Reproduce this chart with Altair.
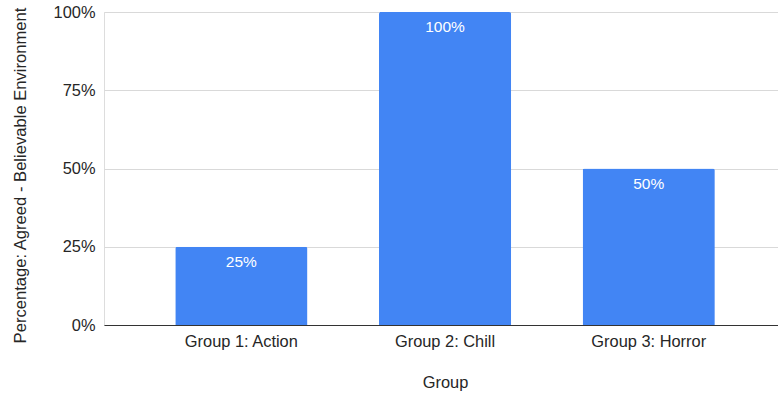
import altair as alt
import pandas as pd

groups = ["Group 1: Action", "Group 2: Chill", "Group 3: Horror"]
values = [0.25, 1.00, 0.50]
labels = ["25%", "100%", "50%"]

df = pd.DataFrame({"group": groups, "value": values, "label": labels})

FONT = "Liberation Sans, Arial, sans-serif"
TXT = "#262626"

x = alt.X(
    "group:N",
    sort=groups,
    scale=alt.Scale(paddingInner=0.351, paddingOuter=0.33, align=0.53),
    axis=alt.Axis(
        title="Group",
        labelAngle=0,
        labelFontSize=16.4,
        labelColor=TXT,
        labelPadding=8,
        labelFont=FONT,
        ticks=False,
        domainColor="#333",
        domainWidth=1.2,
        titleFont=FONT,
        titleFontSize=16.4,
        titleFontWeight="normal",
        titleColor=TXT,
        titleX=341,
        titleY=57,
        titleAlign="center",
        titleBaseline="middle",
    ),
)

y = alt.Y(
    "value:Q",
    scale=alt.Scale(domain=[0, 1], nice=False),
    axis=alt.Axis(
        title="Percentage: Agreed - Believable Environment",
        format=".0%",
        values=[0, 0.25, 0.5, 0.75, 1.0],
        labelFontSize=16.4,
        labelColor=TXT,
        labelPadding=9,
        labelFont=FONT,
        ticks=False,
        domain=False,
        gridColor="#d9d9d9",
        gridWidth=1,
        titleFont=FONT,
        titleFontSize=16.6,
        titleFontWeight="normal",
        titleColor=TXT,
        titleX=-84,
        titleY=163,
        titleAngle=270,
        titleAlign="center",
        titleBaseline="middle",
    ),
)

bars = alt.Chart(df).mark_bar(
    color="#4285F4", cornerRadiusTopLeft=2, cornerRadiusTopRight=2
).encode(x=x, y=y)

text = alt.Chart(df).mark_text(
    color="white", fontSize=15.5, font=FONT, baseline="middle", dy=15
).encode(x=alt.X("group:N", sort=groups), y="value:Q", text="label:N")

chart = (
    alt.layer(bars, text)
    .properties(
        width=674,
        height=313,
        autosize=alt.AutoSizeParams(type="none"),
        padding={"left": 104, "top": 12, "right": 0, "bottom": 70},
    )
    .configure_view(stroke=None)
    .configure(background="white")
)

chart.save("out.html", embed_options={"renderer": "svg", "actions": False})
